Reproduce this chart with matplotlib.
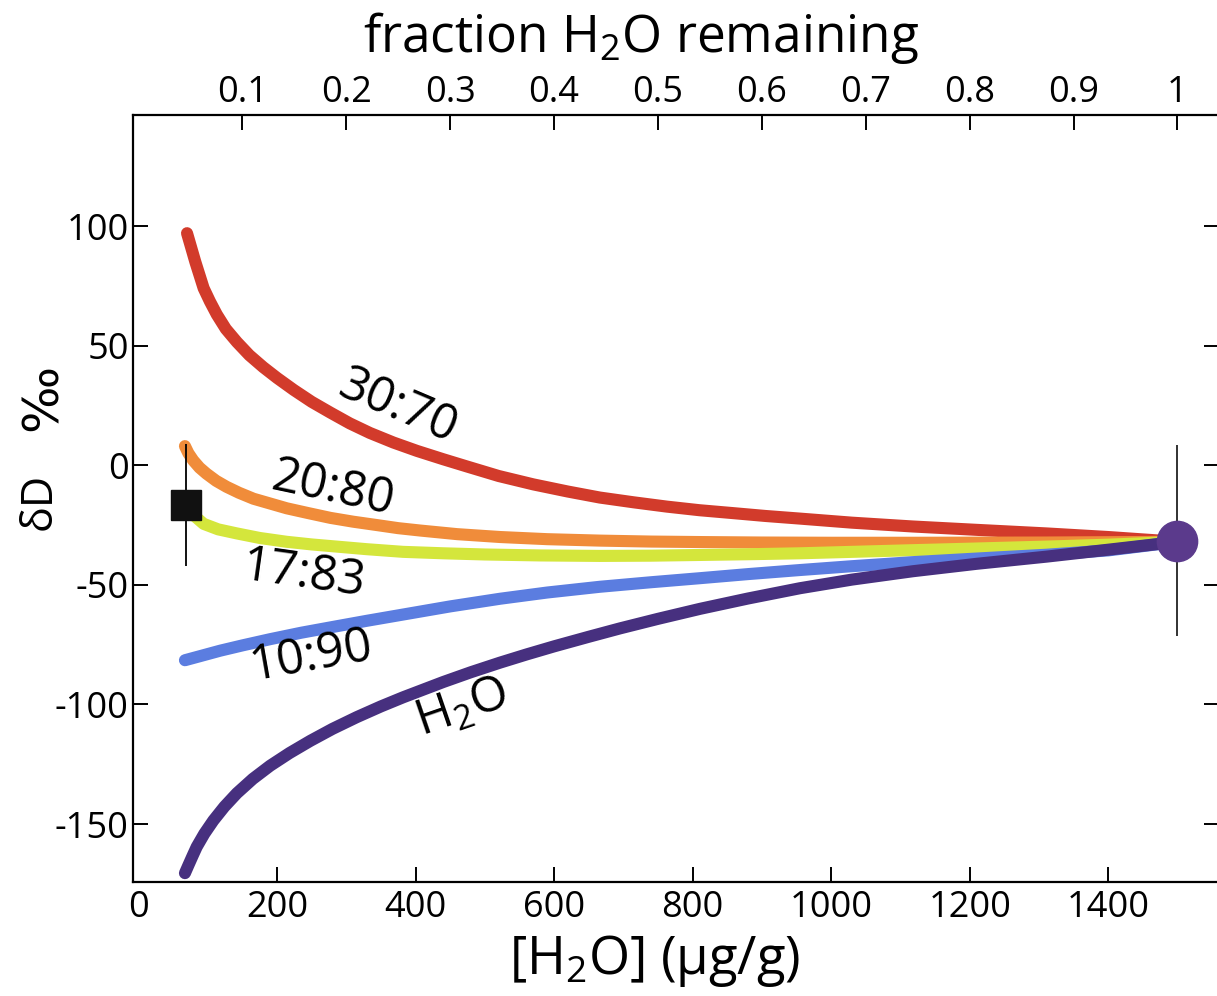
import matplotlib
matplotlib.use("Agg")
import matplotlib.pyplot as plt

# mixing curves: [H2O] (ug/g) vs dD (permil)
red_x = [70, 76, 82, 88, 94, 103, 113, 126, 142, 160, 180, 200, 224, 250, 277, 305, 334, 368, 402,
         440, 474, 520, 570, 620, 666, 715, 763, 810, 858, 905, 955, 1030, 1118, 1210, 1311, 1400, 1500]
red_y = [97, 91, 85, 79.5, 74, 68.5, 63, 57, 51.5, 46, 41, 36.5, 31.5, 26.5, 22, 17.5, 13.5, 9.5, 6,
         2.5, -0.5, -4.5, -8, -11, -13.5, -15.5, -17.3, -18.8, -20, -21.2, -22.3, -24, -25.6, -27, -28.5, -30, -32]

orange_x = [67, 72, 79, 88, 98, 112, 127, 145, 166, 190, 214, 245, 277, 310, 344, 375, 407, 460,
            522, 590, 666, 740, 811, 900, 1000, 1118, 1311, 1500]
orange_y = [8, 5, 2, -1, -3.5, -6.5, -9, -11.5, -14, -16, -18, -20, -22, -23.6, -25, -26.3, -27.3, -28.8,
            -30, -30.9, -31.5, -31.9, -32.1, -32.3, -32.4, -32.4, -32.3, -32]

yellow_x = [69, 80, 94, 115, 142, 175, 214, 250, 286, 330, 382, 440, 500, 580, 666, 740, 811, 880,
            955, 1030, 1118, 1210, 1311, 1400, 1500]
yellow_y = [-17, -21, -24.5, -26.8, -28.5, -30.4, -32, -33.1, -34, -35.1, -36.2, -36.8, -37.3, -37.7, -37.9, -37.8,
            -37.5, -37.2, -36.8, -36.2, -35.5, -34.8, -34, -33.2, -32]

blue_x = [67, 90, 118, 150, 190, 235, 286, 330, 380, 450, 522, 590, 666, 740, 811, 880, 955, 1030,
          1118, 1210, 1311, 1400, 1500]
blue_y = [-81.5, -79.7, -77.5, -75.3, -72.7, -70, -67.3, -65, -62.5, -59, -55.8, -53.2, -50.8, -48.9, -47.2, -45.5,
          -43.8, -42.2, -40.5, -39, -37.4, -35.6, -32]

purple_x = [67, 72, 78, 84, 95, 108, 124, 142, 165, 190, 218, 248, 280, 315, 350, 382, 440, 480,
            522, 560, 600, 650, 695, 750, 811, 880, 955, 1030, 1118, 1210, 1311, 1400, 1500]
purple_y = [-170.5, -167.2, -163.3, -159.5, -154, -148.5, -142.7, -137.1, -131.1, -125.6, -120.3, -115.2,
            -110.2, -105.3, -100.8, -97, -90.6, -86.5, -82.5, -79.1, -75.7, -71.7, -68.2, -64.2, -60, -55.7,
            -51.4, -47.8, -44.3, -41.2, -38.2, -35.3, -32]

# measured points
glass_x, glass_y, glass_err = 69, -16.7, 25.5
start_x, start_y, start_err = 1500, -31.5, 40

x_ticks = [0, 200, 400, 600, 800, 1000, 1200, 1400]
y_ticks = [-150, -100, -50, 0, 50, 100]
frac_ticks = [0.1, 0.2, 0.3, 0.4, 0.5, 0.6, 0.7, 0.8, 0.9, 1]
frac_labels = ["0.1", "0.2", "0.3", "0.4", "0.5", "0.6", "0.7", "0.8", "0.9", "1"]
h2o_initial = 1500

plt.rcParams["font.family"] = ["Open Sans", "DejaVu Sans"]
plt.rcParams["mathtext.fontset"] = "custom"
plt.rcParams["mathtext.rm"] = "Open Sans"
plt.rcParams["mathtext.default"] = "regular"
plt.rcParams["axes.unicode_minus"] = False

fig = plt.figure(figsize=(12.17, 9.96), dpi=100)
ax = fig.add_axes([133 / 1217, 114 / 996, (1219 - 133) / 1217, 767 / 996])

lw = 8.7
ax.plot(red_x, red_y, color="#d23b2b", lw=lw, solid_capstyle="round", solid_joinstyle="round", zorder=3)
ax.plot(orange_x, orange_y, color="#f08c3a", lw=lw, solid_capstyle="round", solid_joinstyle="round", zorder=3)
ax.plot(yellow_x, yellow_y, color="#d4e63c", lw=lw, solid_capstyle="round", solid_joinstyle="round", zorder=3)
ax.plot(blue_x, blue_y, color="#5b7de0", lw=lw, solid_capstyle="round", solid_joinstyle="round", zorder=3)
ax.plot(purple_x, purple_y, color="#47307f", lw=lw, solid_capstyle="round", solid_joinstyle="round", zorder=3)

ax.errorbar(glass_x, glass_y, yerr=glass_err, fmt="none", ecolor="black", elinewidth=1.3, zorder=4)
ax.plot(glass_x, glass_y, marker="s", ms=21, color="#111111", zorder=5)
ax.errorbar(start_x, start_y, yerr=start_err, fmt="none", ecolor="#222222", elinewidth=1.3, zorder=4)
ax.plot(start_x, start_y, marker="o", ms=29, color="#5b3a8c", zorder=5)

# curve labels
lab = dict(ha="center", va="center", fontsize=35, rotation_mode="anchor", zorder=6)
ax.text(375, 24, "30:70", rotation=-23, **lab)
ax.text(281, -10, "20:80", rotation=-12, **lab)
ax.text(238, -46, "17:83", rotation=-8, **lab)
ax.text(249, -80, "10:90", rotation=10, **lab)
ax.text(467, -102, "H$_2$O", rotation=19, **lab)

ax.set_xlim(-8, 1560)
ax.set_ylim(-174.2, 146.4)
ax.set_xticks(x_ticks)
ax.set_yticks(y_ticks)
ax.tick_params(axis="both", direction="in", length=10.8, width=1.4, labelsize=26)
ax.tick_params(axis="y", right=True, pad=3)
ax.tick_params(axis="x", pad=6)
ax.xaxis.get_major_ticks()[0].tick1line.set_visible(False)
for s in ax.spines.values():
    s.set_linewidth(1.6)
ax.spines["top"].set_visible(False)

ax.set_xlabel("[H$_2$O] (µg/g)", fontsize=38)
ax.xaxis.set_label_coords(0.4807, -0.066)
ax.set_ylabel("δD", fontsize=31)
ax.yaxis.set_label_coords(-0.066, 0.496)
# per mil sign drawn larger, as in the original
ax.text(-0.0835, 0.632, "‰", transform=ax.transAxes, rotation=90, fontsize=36,
        family=["DejaVu Sans"], ha="center", va="center", clip_on=False)

secax = ax.secondary_xaxis("top", functions=(lambda x: x / h2o_initial, lambda f: f * h2o_initial))
secax.set_xticks(frac_ticks)
secax.set_xticklabels(frac_labels)
secax.tick_params(direction="in", length=10.8, width=1.4, labelsize=26, pad=3)
secax.spines["top"].set_linewidth(1.6)
fig.text(641 / 1217, 1 - 52 / 996, "fraction H$_2$O remaining", fontsize=37, ha="center", va="baseline")

fig.savefig("out.png", dpi=100)
